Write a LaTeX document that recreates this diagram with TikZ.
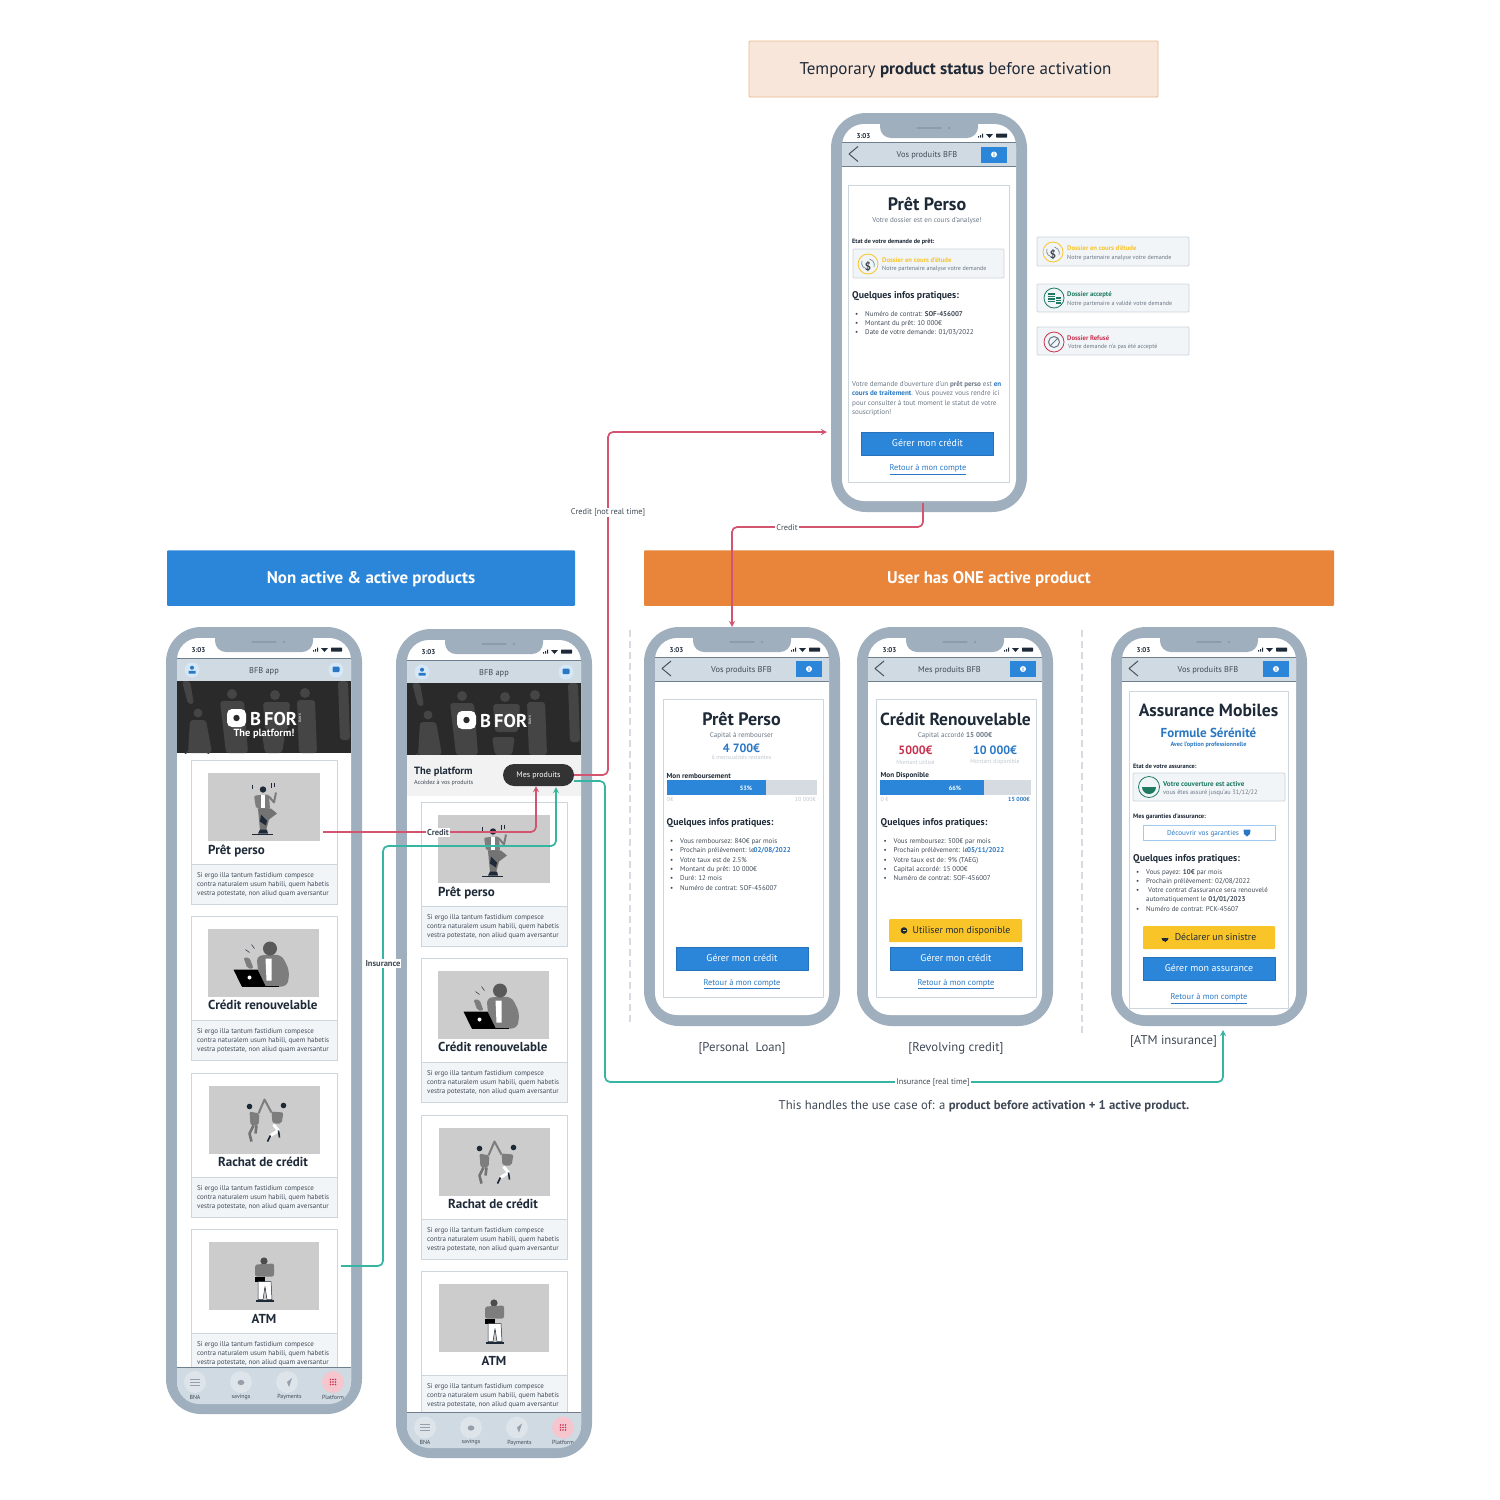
\documentclass[tikz,border=0pt]{standalone}
\usepackage{fontspec}
\setmainfont{PT Sans}
\definecolor{casegrey}{HTML}{9FAFBD}
\definecolor{casedark}{HTML}{8C9CAB}
\definecolor{barfill}{HTML}{CFDAE3}
\definecolor{barline}{HTML}{6F7F8E}
\definecolor{cardline}{HTML}{CDD5DD}
\definecolor{softbg}{HTML}{F1F5F8}
\definecolor{inkdark}{HTML}{1E2A38}
\definecolor{inkgrey}{HTML}{6B7785}
\definecolor{inklight}{HTML}{C0C8D0}
\definecolor{bfbblue}{HTML}{2B86D9}
\definecolor{linkblue}{HTML}{2A78C4}
\definecolor{bfbyellow}{HTML}{F8C427}
\definecolor{bfborange}{HTML}{E8853A}
\definecolor{bfbgreen}{HTML}{1F7A63}
\definecolor{bfbred}{HTML}{C8324F}
\definecolor{creditred}{HTML}{D2546F}
\definecolor{insuranceteal}{HTML}{35B5A2}
\definecolor{peach}{HTML}{F9E6DA}
\definecolor{peachline}{HTML}{E8B98A}
\definecolor{imggrey}{HTML}{CCCCCC}
\definecolor{figgrey}{HTML}{7D7D7D}
\definecolor{bannerbg}{HTML}{2A2A2A}
\definecolor{bannerfig}{HTML}{454545}
\definecolor{tabcircle}{HTML}{DDE4EA}
\definecolor{tabpink}{HTML}{F5C6CE}
\definecolor{iconback}{HTML}{D6E8F8}
\definecolor{railgrey}{HTML}{D5DBE1}
\newcommand{\fs}[2]{\fontsize{#1}{#2}\selectfont}
\newcommand{\itm}{\llap{\textbullet\hspace{7pt}}}
\newcommand{\phonecase}[3]{%
	\begin{scope}[shift={(#1,#2)}]
		\fill[casegrey,rounded corners=35] (0,0) rectangle (196,#3);
		\fill[white,rounded corners=22] (11,11) rectangle (185,#3-11);
		\fill[casegrey,rounded corners=11] (49,0)--(49,25)--(147,25)--(147,0)--cycle;
		\draw[casedark,line width=1.2,line cap=round] (86,15)--(110,15);
		\fill[casedark] (118,15) circle (1.3);
		\node (time) [boldtxt,font=\bfseries\fs{7}{8},anchor=center] at (32.5,22) {3:03};
		\fill[inkdark] (147,23)rectangle(148,24.5) (149,22)rectangle(150,24.5) (151,20.5)rectangle(152,24.5);
		\fill[inkdark] (155,21)--(162,21)--(158.5,25)--cycle;
		\fill[inkdark,rounded corners=0.5] (165,20.5) rectangle (176,24.5);
	\end{scope}}
\newcommand{\appbar}[5]{% title, title x, bar top, button left, screen left
	\fill[barfill] (#5,#3) rectangle (#5+174,#3+24);
	\draw[barline,line width=0.6] (#5,#3)--(#5+174,#3) (#5,#3+24)--(#5+174,#3+24);
	\draw[inkgrey!70!black,line width=1] (#5+16,#3+4)--(#5+7,#3+11.5)--(#5+16,#3+19);
	\node (bartitle) [midtxt] at (#2,#3+12) {#1};
	\fill[bfbblue] (#4,#3+4) rectangle (#4+26,#3+20);
	\fill[white] (#4+13,#3+12) circle (3);
	\fill[bfbblue] (#4+12.6,#3+11)rectangle(#4+13.4,#3+14) (#4+12.6,#3+9.8)rectangle(#4+13.4,#3+10.5);}
\newcommand{\retour}[2]{\node (back) [linktxt] at (#1,#2) {\underline{Retour à mon compte}};}
\newcommand{\infohead}[2]{\node (infohead) [boldtxt,font=\bfseries\fs{9.8}{11}] at (#1,#2) {Quelques infos pratiques:};}
\newcommand{\softbox}[4]{\draw[cardline,fill=softbg,line width=0.8,rounded corners=1] (#1,#2) rectangle (#3,#4);}
\newcommand{\pendingicon}[3]{%
	\draw[bfbyellow,fill=softbg,line width=0.8] (#2,#3) circle (10);
	\draw[inkgrey,line width=0.6] (#2-6,#3-3) arc (200:100:6) (#2+6,#3+3) arc (20:-80:6);
	\node (#1) [boldtxt,font=\bfseries\fs{11}{12},anchor=center,text=inkgrey!60!black] at (#2,#3+1.5) {\$};}
\newcommand{\acceptedicon}[3]{%
	\draw[bfbgreen,fill=softbg,line width=0.8] (#2,#3) circle (10);
	\draw[bfbgreen,line width=1.1] (#2-6,#3-4)--(#2+1,#3-4) (#2-6,#3-1.5)--(#2+1,#3-1.5) (#2-6,#3+1)--(#2+1,#3+1) (#2-6,#3+3.5)--(#2+1,#3+3.5) (#2+2,#3)--(#2+7,#3) (#2+2,#3+2.5)--(#2+7,#3+2.5) (#2+2,#3+5)--(#2+7,#3+5);}
\newcommand{\refusedicon}[3]{%
	\draw[bfbred,fill=softbg,line width=0.8] (#2,#3) circle (10);
	\draw[inkgrey,line width=1] (#2,#3) circle (5.5) (#2-4,#3+4)--(#2+4,#3-4);}
\newcommand{\bannerimg}[2]{%
	\begin{scope}[shift={(#1,#2)}]
		\fill[bannerbg] (177,681) rectangle (351,753);
		\begin{scope}
			\clip (177,681) rectangle (351,753);
			\fill[bannerfig] (232,694) circle (5) (275,695) circle (5) (305,693) circle (5) (198,713) circle (4.5);
			\fill[bannerfig,rounded corners=3] (220,701)--(244,701)--(248,753)--(226,753)--cycle (297,700)--(315,700)--(317,753)--(299,753)--cycle (263,702)--(290,702)--(288,730)--(265,730)--cycle (190,720)--(206,720)--(212,753)--(188,753)--cycle (338,681)--(348,681)--(350,740)--(340,740)--cycle (182,681)--(190,681)--(194,704)--(188,704)--cycle (262,735)--(285,735)--(282,753)--(265,753)--cycle;
			\draw[bannerfig,line width=1] (197,766) circle (17);
		\end{scope}
		\fill[white,rounded corners=5] (227,709) rectangle (246,727);
		\fill[bannerbg] (236.5,718) circle (3.2);
		\node (logotxt) [boldtxt,font=\bfseries\fs{18.5}{19},text=white] at (250,718) {B\,FOR};
		\node (logobank) [font=\fs{3.5}{4},inner sep=0,text=white,rotate=90] at (300,718) {BANK};
	\end{scope}}
\newcommand{\dancerfig}{%
	\fill[inkdark] (-1,-17) circle (3.2);
	\fill[figgrey,rounded corners=2] (-10,-11)--(5,-12)--(6,3)--(-8,2)--cycle;
	\fill[white] (-3,-12) rectangle (1,1);
	\draw[figgrey,line width=2] (5,-10)--(10,-4)--(12,-14);
	\fill[black!55] (-6,2)--(7,2)--(13,7)--(5,13)--(2,24)--(-4,24)--cycle;
	\fill[inkdark] (-3,8)--(3,14)--(2,19)--(-4,15)--cycle;
	\fill[inkdark] (-4,23)--(3,23)--(4,27)--(-6,27)--cycle;
	\draw[inkdark,line width=0.9] (-12,27.5)--(9,27.5);
	\draw[inkdark,line width=0.5] (-12,-22)--(-12,-18) (7,-24)--(7,-19) (10,-24)--(10,-20);}
\newcommand{\laptopfig}{%
	\fill[figgrey,rounded corners=6] (-7,-7)--(18,-8)--(26,8)--(24,24)--(-4,24)--cycle;
	\fill[white] (2,-4)--(8,-4)--(8,18)--(3,18)--cycle;
	\fill[black!65] (6.5,-14) circle (7);
	\fill[black] (-30,7)--(-6,7)--(2,23.5)--(-22,23.5)--cycle;
	\fill[white] (-14,15) circle (2);
	\draw[black,line width=1.2] (-22,24)--(15,24);
	\fill[figgrey,rounded corners=2] (-20,-5)--(-14,-5)--(-10,6)--(-16,6)--cycle;
	\draw[inkdark,line width=0.5] (-12,-18)--(-9,-14) (-18,-13)--(-14,-10);}
\newcommand{\climbfig}{%
	\fill[figgrey,rounded corners=2] (-15,-8)--(-5,-6)--(-6,6)--(-14,6)--cycle;
	\fill[figgrey,rounded corners=2] (7,-8)--(19,-7)--(17,4)--(8,4)--cycle;
	\fill[inkdark] (-15,-13) circle (2.8) (19,-14) circle (2.8);
	\draw[figgrey,line width=2] (-6,-6)--(0,-20)--(7,-7);
	\draw[black!55,line width=2.6] (-11,6)--(-15,14)--(-13,22) (-8,6)--(-9,14);
	\draw[white,line width=3] (9,5)--(14,11)--(6,16);
	\draw[inkdark,line width=1.6] (6,16)--(3,22) (14,11)--(15,18);}
\newcommand{\basketfig}{%
	\fill[black!70] (0,-14.5) circle (3.6);
	\fill[figgrey,rounded corners=2] (-9,-11)--(10,-12)--(10,1)--(-9,1)--cycle;
	\fill[black] (-9,1) rectangle (1,6);
	\filldraw[fill=white,draw=inkdark,line width=0.5] (-6,6)--(7,6)--(8,24)--(3,24)--(1,11)--(-1,24)--(-6,24)--cycle;
	\fill[inkdark] (-8,24) rectangle (10,26);}
\newcommand{\prodcard}[9]{% name, top, image left, image right, title, title anchor, title x, figure, title drop
	\begin{scope}[name prefix=#1-]
		\draw[cardline,fill=white,line width=0.9] (191.5,#2) rectangle (337,#2+144.5);
		\fill[imggrey] (#3,#2+12.5) rectangle (#4,#2+80.5);
		\begin{scope}[shift={({(#3+#4)/2},#2+46.5)}] #8 \end{scope}
		\node (title) [boldtxt,font=\bfseries\fs{13}{14},#6] at (#7,#2+#9) {#5};
		\draw[cardline,fill=softbg,line width=0.9] (191.5,#2+104) rectangle (337,#2+144.5);
		\node (lorem) [smalltxt,font=\fs{7}{9.3},anchor=north west] at (197,#2+110.5) {Si ergo illa tantum fastidium compesce\\contra naturalem usum habili, quem habetis\\vestra potestate, non aliud quam aversantur};
	\end{scope}}
\newcommand{\cardstack}[2]{%
	\begin{scope}[shift={(#1,#2)}]
		\prodcard{cardloan}{760}{208}{320}{Prêt perso}{anchor=west}{208}{\dancerfig}{90.5}
		\prodcard{cardrev}{916}{208}{319}{Crédit renouvelable}{anchor=west}{208}{\laptopfig}{87.5}
		\prodcard{cardbuy}{1073}{209}{320}{Rachat de crédit}{anchor=center}{263}{\climbfig}{87.5}
		\prodcard{cardatm}{1229}{209}{319}{ATM}{anchor=center}{264}{\basketfig}{88.5}
	\end{scope}}
\newcommand{\tabbar}[2]{%
	\begin{scope}[shift={(#1,#2)}]
		\fill[barfill] (170,1367) rectangle (360,1420);
		\draw[barline,line width=0.7] (177,1367)--(351,1367);
		\fill[tabcircle] (195,1382) circle (11) (241,1382) circle (11) (287,1382) circle (11);
		\fill[tabpink] (333,1382) circle (11);
		\draw[inkgrey!70,line width=0.7] (190,1379)--(200,1379) (190,1382)--(200,1382) (190,1385)--(200,1385);
		\fill[inkgrey!70] (241,1382.5) ellipse (3.4 and 2.6) (287,1382) -- (292,1378) -- (289,1387) -- cycle;
		\foreach \dotx in {330.5,333,335.5} \foreach \doty in {1379.5,1382,1384.5} \fill[bfbred] (\dotx,\doty) circle (0.9);
		\node (tabbna) [tinytxt] at (195,1396) {BNA};
		\node (tabsave) [tinytxt] at (241,1396) {savings};
		\node (tabpay) [tinytxt] at (289.5,1396) {Payments};
		\node (tabplat) [tinytxt] at (333,1396) {Platform};
	\end{scope}}
\newcommand{\homehead}[2]{%
	\begin{scope}[shift={(#1,#2)}]
		\fill[barfill] (177,658) rectangle (351,681);
		\draw[barline,line width=0.6] (177,658)--(351,658);
		\fill[iconback] (192,670) circle (7.5) (336,670) circle (7.5);
		\fill[linkblue] (192,667.7) circle (2) (188.5,673.5) rectangle (195.5,670.8);
		\fill[linkblue,rounded corners=1] (332.5,666.5) rectangle (339.5,672);
		\node (hometitle) [midtxt] at (264,670) {BFB app};
	\end{scope}}
\tikzset{
	boldtxt/.style={inner sep=0,anchor=west,text=inkdark,yshift=-1pt,font=\bfseries\fs{6.2}{8}},
	statehead/.style={boldtxt,font=\bfseries\fs{6.7}{8}},
	smalltxt/.style={inner sep=0,anchor=west,align=left,yshift=-1.5pt,text=inkdark!85!white,font=\fs{6}{8}},
	greytxt/.style={inner sep=0,yshift=-1pt,text=inkgrey,font=\fs{7.1}{8}},
	statesub/.style={greytxt,anchor=west,font=\fs{6.05}{7}},
	faintxt/.style={inner sep=0,yshift=-1pt,text=inklight,font=\fs{5.9}{7}},
	midtxt/.style={inner sep=0,yshift=-1pt,text=inkdark!85!white,font=\fs{8.4}{10}},
	tinytxt/.style={inner sep=0,yshift=-1pt,text=inkdark!85!white,font=\fs{5.9}{7}},
	linktxt/.style={inner sep=0,yshift=-1.5pt,text=linkblue,font=\fs{8.4}{10}},
	bluebtn/.style={draw=bfbblue!85!black,line width=0.4,fill=bfbblue,text=white,inner sep=0,text height=6.5pt,text depth=0pt,minimum width=132,minimum height=23,font=\fs{9.9}{11}},
	yellowbtn/.style={fill=bfbyellow,rounded corners=1,text=inkdark,inner sep=0,text height=6.5pt,text depth=0pt,minimum width=133,minimum height=23,font=\fs{9.8}{11}},
	bighead/.style={inner sep=0,text=white,text height=11pt,text depth=0pt,font=\bfseries\fs{16.9}{18}},
	captiontxt/.style={inner sep=0,yshift=-1.5pt,text=inkdark!85!white,font=\fs{12.7}{14}},
	flowlabel/.style={fill=white,inner sep=1,text=inkdark!85!white,font=\fs{8.3}{10}},
	creditline/.style={draw=creditred,line width=1.7,rounded corners=5,>=stealth},
	insuranceline/.style={draw=insuranceteal,line width=1.7,rounded corners=5,>=stealth},
	railline/.style={draw=railgrey,line width=1.4,dashed,dash pattern=on 7pt off 4pt}
}
\begin{document}
\begin{tikzpicture}[x=1pt,y=-1pt,line join=round]
	\useasboundingbox (0,0) rectangle (1500,1500);
	\fill[white] (0,0) rectangle (1500,1500);
	% banners
	\node (statusbanner) [draw=peachline,fill=peach,line width=0.9,rounded corners=1,minimum width=409,minimum height=56,inner sep=0,text=inkdark,text height=10pt,text depth=0pt,font=\fs{17}{19}] at (953.5,69) {\hspace{4pt}Temporary \textbf{product status} before activation};
	\node (listbanner) [fill=bfbblue,rounded corners=1,minimum width=408,minimum height=55.5,bighead] at (371,578) {Non active \& active products};
	\node (activebanner) [fill=bfborange,rounded corners=1,minimum width=690,minimum height=55.5,bighead] at (989,578) {User has ONE active product};
	\coordinate (railatop) at (630,630);
	\coordinate (railabot) at (630,1022);
	\coordinate (railbtop) at (1082,630);
	\coordinate (railbbot) at (1082,1036);
	\draw[railline] (railatop)--(railabot) (railbtop)--(railbbot);
	% platform, first phone
	\phonecase{166}{627}{787}
	\begin{scope}[name prefix=pa-]
		\begin{scope}
			\clip[rounded corners=22] (177,638) rectangle (351,1404);
			\homehead{0}{0}
			\bannerimg{0}{0}
			\node (tagline) [font=\bfseries\fs{10.4}{12},inner sep=0,yshift=-1pt,text=white] at (264,733) {The platform!};
			\cardstack{0}{0}
			\tabbar{0}{0}
		\end{scope}
	\end{scope}
	% platform, second phone
	\phonecase{396}{629}{829}
	\begin{scope}[name prefix=pb-]
		\begin{scope}
			\clip[rounded corners=22] (407,640) rectangle (581,1448);
			\homehead{230}{2}
			\bannerimg{230}{2}
			\fill[black!5] (407,755) rectangle (581,796);
			\node (platform) [boldtxt,font=\bfseries\fs{10.5}{12}] at (414,771) {The platform};
			\node (platsub) [tinytxt,anchor=west,font=\fs{6.1}{7}] at (414,782) {Accédez à vos produits};
			\cardstack{230}{42}
			\tabbar{230}{45.5}
		\end{scope}
		\node (mes) [fill=black!80,rounded corners=11,minimum width=71,minimum height=22,inner sep=0,text height=5.5pt,text depth=0pt,text=white,font=\fs{8}{9}] at (538.5,775) {Mes produits};
	\end{scope}
	% status phone
	\phonecase{831}{113}{399}
	\begin{scope}[name prefix=pt-]
		\appbar{Vos produits BFB}{927}{142.5}{981}{842}
		\draw[cardline,line width=0.9] (848.5,185) rectangle (1009,482);
		\node (title) [boldtxt,font=\bfseries\fs{18}{20},anchor=center] at (927,203) {Prêt Perso};
		\node (subtitle) [greytxt] at (927,219.5) {Votre dossier est en cours d'analyse!};
		\node (etat) [boldtxt] at (852,241) {Etat de votre demande de prêt:};
		\softbox{853}{249}{1004}{278}
		\pendingicon{icon}{868}{264}
		\node (state) [statehead,text=bfbyellow] at (882,259) {Dossier en cours d'étude};
		\node (statesub) [statesub] at (882,268) {Notre partenaire analyse votre demande};
		\infohead{852}{295}
		\node (infos) [smalltxt,font=\fs{6.95}{9.3},anchor=north west] at (865,309.5) {\itm Numéro de contrat: \textbf{SOF-456007}\\\itm Montant du prêt: 10 000€\\\itm Date de votre demande: 01/03/2022};
		\node (para) [greytxt,align=left,font=\fs{7.1}{9.4},anchor=north west] at (852,380) {Votre demande d'ouverture d'un \textbf{prêt perso} est \textcolor{linkblue}{\textbf{en}}\\\textcolor{linkblue}{\textbf{cours de traitement}}. Vous pouvez vous rendre ici\\pour consulter à tout moment le statut de votre\\souscription!};
		\node (manage) [bluebtn] at (927.5,443.5) {Gérer mon crédit};
		\retour{928}{468}
	\end{scope}
	% status samples
	\softbox{1037}{237}{1189}{266}
	\pendingicon{sone}{1053}{252}
	\node (soneh) [statehead,text=bfbyellow] at (1067,247.5) {Dossier en cours d'étude};
	\node (sonet) [statesub] at (1067,256.5) {Notre partenaire analyse votre demande};
	\softbox{1037}{284}{1189}{312}
	\acceptedicon{stwo}{1054}{298}
	\node (stwoh) [statehead,text=bfbgreen] at (1067,294) {Dossier accepté};
	\node (stwot) [statesub] at (1067,302.5) {Notre partenaire a validé votre demande};
	\softbox{1037}{327}{1189}{355}
	\refusedicon{sthree}{1054}{342}
	\node (sthreeh) [statehead,text=bfbred] at (1067,337.5) {Dossier Refusé};
	\node (sthreet) [statesub] at (1068,346) {Votre demande n'a pas été accepté};
	% personal loan
	\phonecase{644}{627}{399}
	\begin{scope}[name prefix=pc-]
		\appbar{Vos produits BFB}{741.5}{657}{796}{655}
		\draw[cardline,line width=0.9] (663.5,699) rectangle (823,997);
		\node (title) [boldtxt,font=\bfseries\fs{18}{20},anchor=center] at (741.5,718) {Prêt Perso};
		\node (subtitle) [greytxt] at (741.5,734.5) {Capital à rembourser};
		\node (amount) [boldtxt,font=\bfseries\fs{12}{14},text=linkblue,anchor=center] at (741.5,747) {4 700€};
		\node (months) [faintxt] at (741.5,756.5) {6 mensualités restantes};
		\node (rail) [boldtxt,font=\bfseries\fs{7.2}{8}] at (666.5,775) {Mon remboursement};
		\fill[railgrey] (666.5,780) rectangle (817,795);
		\fill[bfbblue] (666.5,780) rectangle (766,795);
		\node (pct) [boldtxt,text=white,anchor=center] at (746,787.5) {53\%};
		\node (railmin) [faintxt,anchor=west] at (667,798.5) {0€};
		\node (railmax) [faintxt,anchor=east] at (816,798.5) {10 000€};
		\infohead{666.5}{822}
		\node (infos) [smalltxt,font=\fs{6.95}{9.3},anchor=north west] at (680,837) {\itm Vous remboursez: 840€ par mois\\\itm Prochain prélèvement: le\kern-1pt\textcolor{linkblue}{\textbf{02/08/2022}}\\\itm Votre taux est de 2.5\%\\\itm Montant du prêt: 10 000€\\\itm Duré: 12 mois\\\itm Numéro de contrat: SOF-456007};
		\node (manage) [bluebtn] at (742,958.5) {Gérer mon crédit};
		\retour{742}{982.5}
	\end{scope}
	% revolving credit
	\phonecase{857}{627}{399}
	\begin{scope}[name prefix=pd-]
		\appbar{Mes produits BFB}{949.5}{657}{1010}{868}
		\draw[cardline,line width=0.9] (876.5,699) rectangle (1036,997);
		\node (title) [boldtxt,font=\bfseries\fs{17.5}{20},anchor=center] at (955.5,718) {Crédit Renouvelable};
		\node (subtitle) [greytxt] at (955,734.5) {Capital accordé \textbf{15 000€}};
		\node (used) [boldtxt,font=\bfseries\fs{12}{14},text=bfbred,anchor=center] at (915.5,749.5) {5000€};
		\node (free) [boldtxt,font=\bfseries\fs{12}{14},text=linkblue,anchor=center] at (995,749.5) {10 000€};
		\node (usedsub) [faintxt] at (915.5,761) {Montant utilisé};
		\node (freesub) [faintxt] at (995,761) {Montant disponible};
		\node (rail) [boldtxt,font=\bfseries\fs{7.2}{8}] at (880.5,775) {Mon Disponible};
		\fill[railgrey] (880,780) rectangle (1031,795);
		\fill[bfbblue] (880,780) rectangle (984,795);
		\node (pct) [boldtxt,text=white,anchor=center] at (955,787.5) {66\%};
		\node (railmin) [faintxt,anchor=west] at (880.5,798.5) {0 €};
		\node (railmax) [faintxt,anchor=east,text=linkblue,font=\bfseries\fs{5.9}{7}] at (1030,798.5) {15 000€};
		\infohead{880.5}{822}
		\node (infos) [smalltxt,font=\fs{6.95}{9.3},anchor=north west] at (893.5,837) {\itm Vous remboursez: 500€ par mois\\\itm Prochain prélèvement: le\kern-1pt\textcolor{linkblue}{\textbf{05/11/2022}}\\\itm Votre taux est de: 9\% (TAEG)\\\itm Capital accordé: 15 000€\\\itm Numéro de contrat: SOF-456007};
		\node (use) [yellowbtn] at (955.5,930.5) {\hspace{12pt}Utiliser mon disponible};
		\fill[inkdark] (904,930.5) circle (3.3);
		\fill[bfbyellow] (903,929.8) rectangle (906,931);
		\node (manage) [bluebtn] at (956,958.5) {Gérer mon crédit};
		\retour{956}{982.5}
	\end{scope}
	% atm insurance
	\phonecase{1111}{627}{399}
	\begin{scope}[name prefix=pe-]
		\appbar{Vos produits BFB}{1208}{657}{1263}{1122}
		\draw[cardline,line width=0.9] (1129,691) rectangle (1288,1008);
		\node (title) [boldtxt,font=\bfseries\fs{17.6}{20},anchor=center] at (1208.5,709.5) {Assurance Mobiles};
		\node (formula) [boldtxt,font=\bfseries\fs{13}{15},text=linkblue,anchor=center] at (1208.5,731.5) {Formule Sérénité};
		\node (option) [boldtxt,font=\bfseries\fs{6.2}{7},text=linkblue,anchor=center] at (1208.5,744) {Avec l'option professionnelle};
		\node (etat) [boldtxt] at (1133,765) {Etat de votre assurance:};
		\softbox{1133}{773}{1285}{801}
		\draw[bfbgreen,fill=softbg,line width=0.8] (1149,787) circle (10.5);
		\fill[bfbgreen] (1142,787) arc (180:0:7) -- cycle;
		\draw[bfbgreen,line width=0.7] (1149,787)--(1149,793);
		\node (state) [boldtxt,font=\bfseries\fs{7.1}{8},text=bfbgreen] at (1163,783) {Votre couverture est active};
		\node (statesub) [statesub,font=\fs{6.3}{7}] at (1163,792) {vous êtes assuré jusqu'au 31/12/22};
		\node (guar) [boldtxt,font=\bfseries\fs{6.4}{8}] at (1133,816) {Mes garanties d'assurance:};
		\node (guarbtn) [draw=iconback!70!bfbblue,line width=0.7,fill=white,minimum width=132,minimum height=15,inner sep=0,text height=5pt,text depth=0pt,text=linkblue,font=\fs{7.2}{8}] at (1209,832.5) {\hspace{-12pt}Découvrir vos garanties};
		\fill[linkblue] (1243.5,829.5)--(1250.5,829.5)--(1250,834)--(1247,836.5)--(1244,834)--cycle;
		\infohead{1133}{858}
		\node (infos) [smalltxt,font=\fs{6.95}{9.25},anchor=north west] at (1146,867.5) {\itm Vous payez: \textbf{10€} par mois\\\itm Prochain prélèvement: 02/08/2022\\\itm\hspace{2pt}Votre contrat d'assurance sera renouvelé\\automatiquement le \textbf{01/01/2023}\\\itm Numéro de contrat: PCK-45607};
		\node (claim) [yellowbtn,minimum width=132] at (1209,937.5) {\hspace{13pt}Déclarer un sinistre};
		\fill[inkdark] (1161.5,938) arc (180:0:3.5) -- cycle;
		\draw[inkdark,line width=0.7] (1165,938)--(1165,941.5);
		\node (manage) [bluebtn] at (1209,968.5) {Gérer mon assurance};
		\retour{1209}{997}
	\end{scope}
	% captions
	\node (capc) [captiontxt] at (742,1046.5) {[Personal\ \ Loan]};
	\node (capd) [captiontxt] at (956,1046.5) {[Revolving credit]};
	\node (cape) [captiontxt] at (1173.5,1040) {[ATM insurance]};
	\node (usecase) [captiontxt] at (984,1105) {This handles the use case of: a \textbf{product before activation + 1 active product.}};
	% flows
	\coordinate (statusin) at (827,432);
	\coordinate (statuselbow) at (608,432);
	\coordinate (statusout) at (923,503);
	\coordinate (loanelbow) at (732,527);
	\coordinate (loanin) at (732,627);
	\coordinate (cardout) at (323,832);
	\coordinate (mesinred) at (536,786);
	\coordinate (atmout) at (341,1266);
	\coordinate (atmelbow) at (383,846);
	\coordinate (mesinteal) at (556,787);
	\coordinate (mesout) at (574,781);
	\coordinate (insbottom) at (605,1082);
	\coordinate (insin) at (1223,1030);
	\draw[creditline,->] (pb-mes.east) -| (statuselbow) -- (statusin);
	\draw[creditline,->] (statusout) |- (loanelbow) -- (loanin);
	\draw[creditline,->] (cardout) -| (mesinred);
	\draw[insuranceline,->] (atmout) -| (atmelbow) -| (mesinteal);
	\draw[insuranceline,->] (mesout) -| (insbottom) -| (insin);
	\node (flowa) [flowlabel] at (608,512.5) {Credit [not real time]};
	\node (flowb) [flowlabel] at (787,528) {Credit};
	\node (flowc) [flowlabel,font=\bfseries\fs{8.5}{10}] at (438,832.5) {Credit};
	\node (flowd) [flowlabel,font=\bfseries\fs{8.5}{10}] at (383,963.5) {Insurance};
	\node (flowe) [flowlabel] at (933,1083) {Insurance [real time]};
\end{tikzpicture}
\end{document}
